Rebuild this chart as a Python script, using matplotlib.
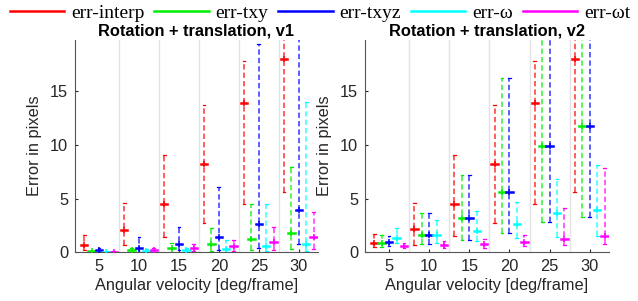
import numpy as np
import matplotlib
matplotlib.use('Agg')
import matplotlib.pyplot as plt
from matplotlib.lines import Line2D

velocities = [5, 10, 15, 20, 25, 30]
series = ['err-interp', 'err-txy', 'err-txyz', 'err-\u03c9', 'err-\u03c9t']
colors = ['#ff0000', '#00ee00', '#0000ff', '#00ffff', '#ff00ff']

# v1: median, low, high per series (rows) and velocity (cols)
v1_med = [[0.69, 2.09, 4.49, 8.26, 13.9, 18.0],
          [0.08, 0.22, 0.37, 0.75, 1.22, 1.76],
          [0.18, 0.44, 0.75, 1.46, 2.6, 3.95],
          [0.02, 0.14, 0.22, 0.28, 0.55, 0.76],
          [0.06, 0.2, 0.37, 0.62, 1.0, 1.45]]
v1_lo = [[0.2, 0.69, 1.4, 2.71, 4.5, 5.66],
         [0.0, 0.0, 0.0, 0.1, 0.2, 0.3],
         [0.0, 0.0, 0.2, 0.2, 0.4, 0.8],
         [0.0, 0.0, 0.0, 0.05, 0.1, 0.1],
         [0.0, 0.05, 0.1, 0.1, 0.2, 0.3]]
v1_hi = [[1.62, 4.58, 9.1, 13.77, 17.8, 22.0],
         [0.15, 0.44, 0.9, 2.24, 4.5, 7.94],
         [0.37, 1.46, 2.34, 6.07, 19.4, 22.0],
         [0.08, 0.3, 0.44, 1.15, 4.5, 14.0],
         [0.12, 0.37, 0.78, 1.15, 2.4, 3.74]]

# v2
v2_med = [[0.87, 2.15, 4.52, 8.26, 13.9, 18.0],
          [0.9, 1.62, 3.18, 5.58, 9.88, 11.8],
          [0.95, 1.62, 3.18, 5.58, 9.88, 11.8],
          [1.33, 1.62, 2.02, 2.65, 3.7, 3.96],
          [0.6, 0.69, 0.78, 1.0, 1.25, 1.53]]
v2_lo = [[0.53, 0.69, 1.53, 2.77, 4.5, 5.66],
         [0.5, 0.75, 1.15, 1.78, 2.87, 3.27],
         [0.6, 0.75, 1.15, 1.78, 2.87, 3.27],
         [0.9, 0.9, 1.09, 1.3, 1.46, 1.53],
         [0.4, 0.44, 0.37, 0.6, 0.69, 0.78]]
v2_hi = [[1.71, 4.58, 9.1, 13.77, 17.8, 22.0],
         [1.62, 3.64, 7.17, 16.26, 22.0, 22.0],
         [1.55, 3.64, 7.17, 16.26, 22.0, 22.0],
         [2.24, 3.0, 3.86, 4.73, 6.82, 8.16],
         [0.9, 1.06, 1.25, 1.62, 4.1, 7.85]]

dark = '#262626'
plt.rcParams['font.family'] = ['Liberation Sans', 'DejaVu Sans']

fig = plt.figure(figsize=(6.38, 3.01), dpi=100)
ax1 = fig.add_axes([75/638, 48.7/301, 243/638, 212.3/301])
ax2 = fig.add_axes([365/638, 48.7/301, 244/638, 212.3/301])

def draw_panel(ax, med, lo, hi, title):
    pos = np.arange(1, len(velocities) + 1)
    for b in pos[:-1]:
        ax.axvline(b + 0.5, color='#e3e3e3', lw=1, zorder=0)
    for i, c in enumerate(colors):
        x = pos + (i - 2) * 0.185
        for j in range(len(pos)):
            ax.plot([x[j], x[j]], [lo[i][j], hi[i][j]], color=c, lw=1.1,
                    ls=(0, (3.5, 2)), alpha=0.8, zorder=2)
            ax.plot([x[j] - 0.035, x[j] + 0.035], [hi[i][j]] * 2, color=c, lw=0.9, zorder=2)
            ax.plot([x[j] - 0.035, x[j] + 0.035], [lo[i][j]] * 2, color=c, lw=0.9, zorder=2)
            ax.plot([x[j] - 0.08, x[j] + 0.08], [med[i][j]] * 2, color=c, lw=1.8, zorder=3)
            ax.plot([x[j]], [med[i][j]], marker='|', ms=4.5, mew=1.1, color=c, zorder=3)
    ax.set_xlim(0.4, 6.48)
    ax.set_ylim(0, 19.8)
    ax.set_xticks(pos)
    ax.set_xticklabels([str(v) for v in velocities])
    ax.set_yticks([0, 5, 10, 15])
    ax.tick_params(direction='in', length=2.5, colors=dark, labelsize=11.8, pad=5)
    for s in ['top', 'right']:
        ax.spines[s].set_visible(False)
    for s in ['left', 'bottom']:
        ax.spines[s].set_color('#555555')
    ax.set_xlabel('Angular velocity [deg/frame]', fontsize=11.8, color=dark, labelpad=3)
    ax.set_ylabel('Error in pixels', fontsize=11.8, color=dark, labelpad=6)
    ax.set_title(title, fontsize=11.8, fontweight='bold', color='black', pad=3)

draw_panel(ax1, v1_med, v1_lo, v1_hi, 'Rotation + translation, v1')
draw_panel(ax2, v2_med, v2_lo, v2_hi, 'Rotation + translation, v2')

handles = [Line2D([], [], color=c, lw=1.8) for c in colors]
fig.legend(handles, series, loc='center', bbox_to_anchor=(0.5016, 1 - 13/301), ncol=5,
           frameon=False, prop={'family': 'Liberation Serif', 'size': 14},
           handlelength=2.8, handletextpad=0.36, columnspacing=0.5, borderaxespad=0,
           borderpad=0)

fig.savefig('out.png', dpi=100)
